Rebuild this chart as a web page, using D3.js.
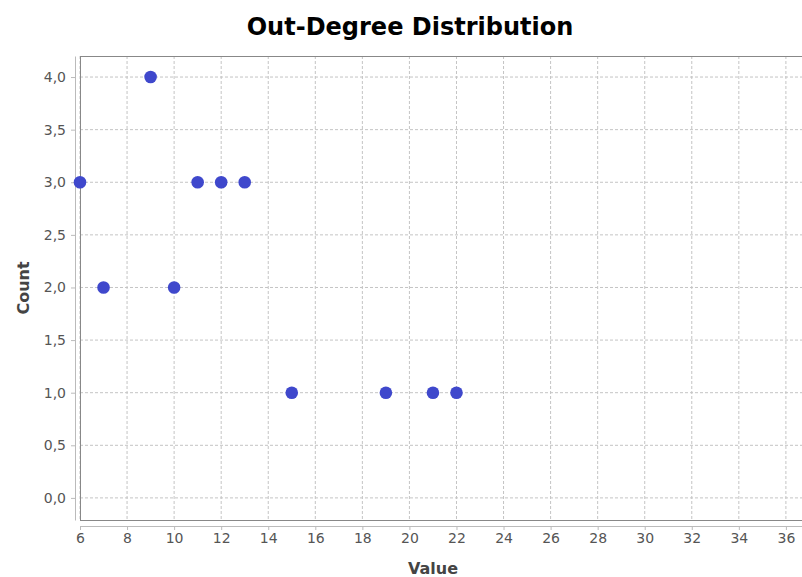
<!DOCTYPE html>
<html>
<head>
<meta charset="utf-8">
<script src="https://cdn.jsdelivr.net/npm/d3@7"></script>
<style>
  body { margin: 0; background: #fff; }
  text { font-family: "DejaVu Sans", sans-serif; }
</style>
</head>
<body>
<svg id="chart"></svg>
<script>
// Data
const degreeValues = [6, 7, 9, 10, 11, 12, 13, 15, 19, 21, 22];
const degreeCounts = [3, 2, 4, 2, 3, 3, 3, 1, 1, 1, 1];
const xTicks = [6, 8, 10, 12, 14, 16, 18, 20, 22, 24, 26, 28, 30, 32, 34, 36];
const yTicks = [0, 0.5, 1, 1.5, 2, 2.5, 3, 3.5, 4];

const width = 802;
const height = 577;
const plot = { left: 80, right: 802, top: 56, bottom: 520 };

const svg = d3.select("#chart")
  .attr("width", width)
  .attr("height", height);

const xScale = d3.scaleLinear()
  .domain([6, 6 + (plot.right - plot.left) / 23.53])
  .range([plot.left, plot.right]);

const yScale = d3.scaleLinear()
  .domain([-0.21, 4.2])
  .range([plot.bottom, plot.top]);

const fmt = d => d3.format(".1f")(d).replace(".", ",");

// Gridlines
svg.append("g").selectAll("line")
  .data(xTicks)
  .enter().append("line")
  .attr("x1", d => xScale(d)).attr("x2", d => xScale(d))
  .attr("y1", plot.top).attr("y2", plot.bottom)
  .attr("stroke", "#c4c4c4")
  .attr("stroke-dasharray", "3,2");

svg.append("g").selectAll("line")
  .data(yTicks)
  .enter().append("line")
  .attr("x1", plot.left).attr("x2", plot.right)
  .attr("y1", d => yScale(d)).attr("y2", d => yScale(d))
  .attr("stroke", "#c4c4c4")
  .attr("stroke-dasharray", "3,2");

// Plot frame
svg.append("rect")
  .attr("x", plot.left + 0.5)
  .attr("y", plot.top + 0.5)
  .attr("width", plot.right - plot.left + 10)
  .attr("height", plot.bottom - plot.top)
  .attr("fill", "none")
  .attr("stroke", "#888")
  .attr("stroke-width", 1);

// X axis (offset below plot)
const xAxis = d3.axisBottom(xScale)
  .tickValues(xTicks)
  .tickSize(4)
  .tickSizeOuter(0)
  .tickPadding(3)
  .tickFormat(d3.format("d"));

const gx = svg.append("g")
  .attr("transform", `translate(0, ${plot.bottom + 6})`)
  .call(xAxis);

// Y axis (offset left of plot)
const yAxis = d3.axisLeft(yScale)
  .tickValues(yTicks)
  .tickSize(4)
  .tickSizeOuter(0)
  .tickPadding(5)
  .tickFormat(fmt);

const gy = svg.append("g")
  .attr("transform", `translate(${plot.left - 5}, 0)`)
  .call(yAxis);

[gx, gy].forEach(g => {
  g.select(".domain").attr("stroke", "#bbb");
  g.selectAll(".tick line").attr("stroke", "#bbb");
  g.selectAll(".tick text")
    .attr("fill", "#555")
    .style("font-size", "14px")
    .style("font-family", "'DejaVu Sans', sans-serif");
});

// Points
svg.append("g").selectAll("circle")
  .data(degreeValues)
  .enter().append("circle")
  .attr("cx", d => xScale(d))
  .attr("cy", (d, i) => yScale(degreeCounts[i]))
  .attr("r", 6.3)
  .attr("fill", "#3f48cc");

// Title
svg.append("text")
  .attr("x", 410)
  .attr("y", 35)
  .attr("text-anchor", "middle")
  .style("font-size", "24px")
  .style("font-weight", "bold")
  .attr("fill", "#000")
  .text("Out-Degree Distribution");

// Axis labels
svg.append("text")
  .attr("x", 433)
  .attr("y", 574)
  .attr("text-anchor", "middle")
  .style("font-size", "16px")
  .style("font-weight", "bold")
  .attr("fill", "#444")
  .text("Value");

svg.append("text")
  .attr("transform", `translate(29, ${288}) rotate(-90)`)
  .attr("text-anchor", "middle")
  .style("font-size", "16px")
  .style("font-weight", "bold")
  .attr("fill", "#444")
  .text("Count");
</script>
</body>
</html>
